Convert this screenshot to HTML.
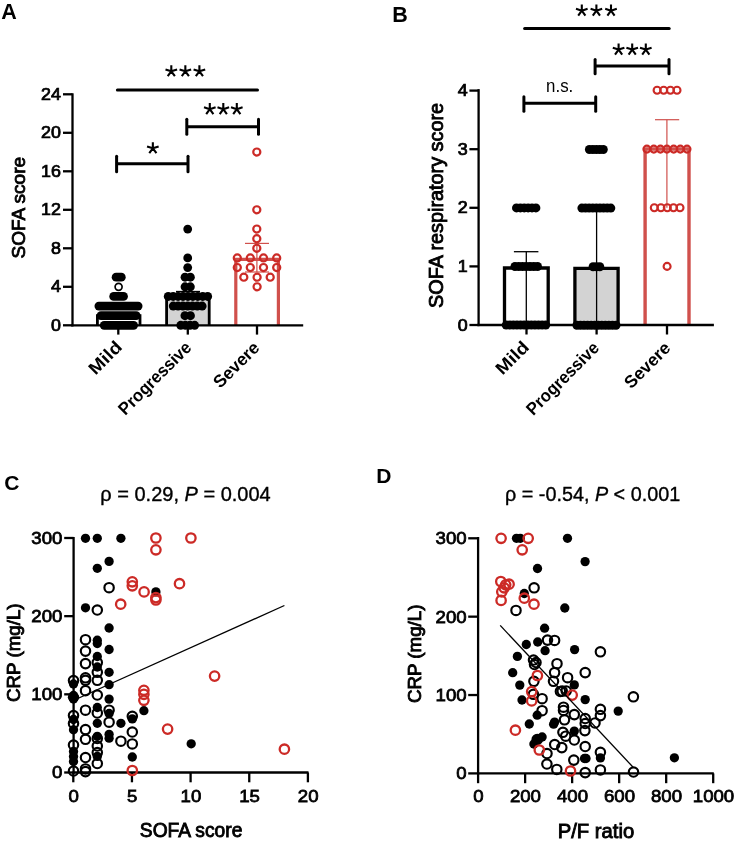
<!DOCTYPE html>
<html><head><meta charset="utf-8"><style>
html,body{margin:0;padding:0;background:#fff;}
svg{display:block;font-family:"Liberation Sans",sans-serif;will-change:transform;}
</style></head><body>
<svg width="736" height="843" viewBox="0 0 736 843">
<rect width="736" height="843" fill="#fff"/>
<text x="1.3" y="18.8" font-size="21.5" font-weight="bold" text-anchor="start"  style="">A</text>
<rect x="97.4" y="315.68" width="42.6" height="9.62" fill="#fff"/>
<path d="M97.4 325.3V315.68H140V325.3" fill="none" stroke="#000" stroke-width="2.8" stroke-linejoin="miter"/>
<rect x="166.6" y="296.91" width="42.6" height="28.39" fill="#d3d3d3"/>
<path d="M166.6 325.3V296.91H209.2V325.3" fill="none" stroke="#000" stroke-width="2.8" stroke-linejoin="miter"/>
<path d="M235.8 325.3V259.3H278.4V325.3" fill="none" stroke="#d0504c" stroke-width="3.2" stroke-linejoin="miter"/>
<line x1="256.9" y1="243.4" x2="256.9" y2="272" stroke="#d0504c" stroke-width="1.2" stroke-linecap="butt"/>
<line x1="245" y1="243.4" x2="269" y2="243.4" stroke="#d0504c" stroke-width="1.2" stroke-linecap="butt"/>
<line x1="245" y1="272" x2="269" y2="272" stroke="#d0504c" stroke-width="1.2" stroke-linecap="butt"/>
<line x1="176" y1="291.6" x2="200" y2="291.6" stroke="#000" stroke-width="1.5" stroke-linecap="butt"/>
<line x1="72.5" y1="93.3" x2="72.5" y2="326.4" stroke="#000" stroke-width="2.3" stroke-linecap="butt"/>
<line x1="71.35" y1="325.3" x2="303.2" y2="325.3" stroke="#000" stroke-width="2.3" stroke-linecap="butt"/>
<line x1="63" y1="325.3" x2="72.5" y2="325.3" stroke="#000" stroke-width="2.3" stroke-linecap="butt"/>
<text transform="translate(61,330.8) scale(1.11,1)" font-size="16.1" font-weight="normal" text-anchor="end"  style="stroke:#000;stroke-width:0.75px">0</text>
<line x1="63" y1="286.8" x2="72.5" y2="286.8" stroke="#000" stroke-width="2.3" stroke-linecap="butt"/>
<text transform="translate(61,292.3) scale(1.11,1)" font-size="16.1" font-weight="normal" text-anchor="end"  style="stroke:#000;stroke-width:0.75px">4</text>
<line x1="63" y1="248.3" x2="72.5" y2="248.3" stroke="#000" stroke-width="2.3" stroke-linecap="butt"/>
<text transform="translate(61,253.8) scale(1.11,1)" font-size="16.1" font-weight="normal" text-anchor="end"  style="stroke:#000;stroke-width:0.75px">8</text>
<line x1="63" y1="209.8" x2="72.5" y2="209.8" stroke="#000" stroke-width="2.3" stroke-linecap="butt"/>
<text transform="translate(61,215.3) scale(1.11,1)" font-size="16.1" font-weight="normal" text-anchor="end"  style="stroke:#000;stroke-width:0.75px">12</text>
<line x1="63" y1="171.3" x2="72.5" y2="171.3" stroke="#000" stroke-width="2.3" stroke-linecap="butt"/>
<text transform="translate(61,176.8) scale(1.11,1)" font-size="16.1" font-weight="normal" text-anchor="end"  style="stroke:#000;stroke-width:0.75px">16</text>
<line x1="63" y1="132.8" x2="72.5" y2="132.8" stroke="#000" stroke-width="2.3" stroke-linecap="butt"/>
<text transform="translate(61,138.3) scale(1.11,1)" font-size="16.1" font-weight="normal" text-anchor="end"  style="stroke:#000;stroke-width:0.75px">20</text>
<line x1="63" y1="94.3" x2="72.5" y2="94.3" stroke="#000" stroke-width="2.3" stroke-linecap="butt"/>
<text transform="translate(61,99.8) scale(1.11,1)" font-size="16.1" font-weight="normal" text-anchor="end"  style="stroke:#000;stroke-width:0.75px">24</text>
<line x1="118.3" y1="325" x2="118.3" y2="334.6" stroke="#000" stroke-width="2.3" stroke-linecap="butt"/>
<line x1="187.8" y1="325" x2="187.8" y2="334.6" stroke="#000" stroke-width="2.3" stroke-linecap="butt"/>
<line x1="257" y1="325" x2="257" y2="334.6" stroke="#000" stroke-width="2.3" stroke-linecap="butt"/>
<rect x="99.8" y="320.9" width="38.2" height="8.8" rx="4.4" fill="#000"/>
<rect x="96.6" y="311.28" width="44" height="8.8" rx="4.4" fill="#000"/>
<rect x="94.5" y="301.65" width="48" height="8.8" rx="4.4" fill="#000"/>
<rect x="109.3" y="292.03" width="18.6" height="8.8" rx="4.4" fill="#000"/>
<rect x="111.7" y="272.78" width="14" height="8.8" rx="4.4" fill="#000"/>
<circle cx="118.6" cy="286.8" r="3.5" fill="#fff" stroke="#000" stroke-width="1.7"/>
<circle cx="180.75" cy="325.3" r="4.45" fill="#000"/>
<circle cx="185.38" cy="325.3" r="4.45" fill="#000"/>
<circle cx="190.02" cy="325.3" r="4.45" fill="#000"/>
<circle cx="194.65" cy="325.3" r="4.45" fill="#000"/>
<circle cx="184.95" cy="315.68" r="4.45" fill="#000"/>
<circle cx="190.45" cy="315.68" r="4.45" fill="#000"/>
<circle cx="173.25" cy="306.05" r="4.45" fill="#000"/>
<circle cx="178.07" cy="306.05" r="4.45" fill="#000"/>
<circle cx="182.88" cy="306.05" r="4.45" fill="#000"/>
<circle cx="187.7" cy="306.05" r="4.45" fill="#000"/>
<circle cx="192.52" cy="306.05" r="4.45" fill="#000"/>
<circle cx="197.33" cy="306.05" r="4.45" fill="#000"/>
<circle cx="202.15" cy="306.05" r="4.45" fill="#000"/>
<circle cx="168.25" cy="296.43" r="4.45" fill="#000"/>
<circle cx="173.18" cy="296.43" r="4.45" fill="#000"/>
<circle cx="178.1" cy="296.43" r="4.45" fill="#000"/>
<circle cx="183.03" cy="296.43" r="4.45" fill="#000"/>
<circle cx="187.95" cy="296.43" r="4.45" fill="#000"/>
<circle cx="192.88" cy="296.43" r="4.45" fill="#000"/>
<circle cx="197.8" cy="296.43" r="4.45" fill="#000"/>
<circle cx="202.73" cy="296.43" r="4.45" fill="#000"/>
<circle cx="207.65" cy="296.43" r="4.45" fill="#000"/>
<circle cx="185.05" cy="286.8" r="4.45" fill="#000"/>
<circle cx="190.35" cy="286.8" r="4.45" fill="#000"/>
<circle cx="185.05" cy="277.18" r="4.45" fill="#000"/>
<circle cx="190.35" cy="277.18" r="4.45" fill="#000"/>
<circle cx="187.7" cy="267.55" r="4.4" fill="#000"/>
<circle cx="187.7" cy="257.93" r="4.4" fill="#000"/>
<circle cx="187.7" cy="229.05" r="4.4" fill="#000"/>
<circle cx="256.8" cy="152.05" r="3.55" fill="none" stroke="#cc2a26" stroke-width="2.2"/>
<circle cx="256.8" cy="209.8" r="3.55" fill="none" stroke="#cc2a26" stroke-width="2.2"/>
<circle cx="256.8" cy="229.05" r="3.55" fill="none" stroke="#cc2a26" stroke-width="2.2"/>
<circle cx="256.8" cy="238.68" r="3.55" fill="none" stroke="#cc2a26" stroke-width="2.2"/>
<circle cx="256.8" cy="248.3" r="3.55" fill="none" stroke="#cc2a26" stroke-width="2.2"/>
<circle cx="237.3" cy="257.93" r="3.55" fill="none" stroke="#cc2a26" stroke-width="2.2"/>
<circle cx="237.3" cy="267.55" r="3.55" fill="none" stroke="#cc2a26" stroke-width="2.2"/>
<circle cx="250.3" cy="257.93" r="3.55" fill="none" stroke="#cc2a26" stroke-width="2.2"/>
<circle cx="250.3" cy="267.55" r="3.55" fill="none" stroke="#cc2a26" stroke-width="2.2"/>
<circle cx="263.5" cy="257.93" r="3.55" fill="none" stroke="#cc2a26" stroke-width="2.2"/>
<circle cx="263.5" cy="267.55" r="3.55" fill="none" stroke="#cc2a26" stroke-width="2.2"/>
<circle cx="276.7" cy="257.93" r="3.55" fill="none" stroke="#cc2a26" stroke-width="2.2"/>
<circle cx="276.7" cy="267.55" r="3.55" fill="none" stroke="#cc2a26" stroke-width="2.2"/>
<circle cx="243.8" cy="277.18" r="3.55" fill="none" stroke="#cc2a26" stroke-width="2.2"/>
<circle cx="257.1" cy="277.18" r="3.55" fill="none" stroke="#cc2a26" stroke-width="2.2"/>
<circle cx="270.2" cy="277.18" r="3.55" fill="none" stroke="#cc2a26" stroke-width="2.2"/>
<circle cx="257.1" cy="286.8" r="3.55" fill="none" stroke="#cc2a26" stroke-width="2.2"/>
<line x1="117.4" y1="90" x2="257.5" y2="90" stroke="#000" stroke-width="3" stroke-linecap="round"/>
<path d="M171.3 71.3L171.3 65.2M171.3 71.3L177.1 69.41M171.3 71.3L174.89 76.24M171.3 71.3L167.71 76.24M171.3 71.3L165.5 69.41" stroke="#000" stroke-width="2.1" stroke-linecap="butt" fill="none"/>
<path d="M185.35 71.3L185.35 65.2M185.35 71.3L191.15 69.41M185.35 71.3L188.94 76.24M185.35 71.3L181.76 76.24M185.35 71.3L179.55 69.41" stroke="#000" stroke-width="2.1" stroke-linecap="butt" fill="none"/>
<path d="M199.4 71.3L199.4 65.2M199.4 71.3L205.2 69.41M199.4 71.3L202.99 76.24M199.4 71.3L195.81 76.24M199.4 71.3L193.6 69.41" stroke="#000" stroke-width="2.1" stroke-linecap="butt" fill="none"/>
<line x1="186.8" y1="126.7" x2="258.5" y2="126.7" stroke="#000" stroke-width="3" stroke-linecap="butt"/>
<line x1="186.8" y1="119.2" x2="186.8" y2="134.3" stroke="#000" stroke-width="3" stroke-linecap="round"/>
<line x1="258.5" y1="119.2" x2="258.5" y2="134.3" stroke="#000" stroke-width="3" stroke-linecap="round"/>
<path d="M209.8 109.2L209.8 103.1M209.8 109.2L215.6 107.31M209.8 109.2L213.39 114.14M209.8 109.2L206.21 114.14M209.8 109.2L204 107.31" stroke="#000" stroke-width="2.1" stroke-linecap="butt" fill="none"/>
<path d="M223.3 109.2L223.3 103.1M223.3 109.2L229.1 107.31M223.3 109.2L226.89 114.14M223.3 109.2L219.71 114.14M223.3 109.2L217.5 107.31" stroke="#000" stroke-width="2.1" stroke-linecap="butt" fill="none"/>
<path d="M236.8 109.2L236.8 103.1M236.8 109.2L242.6 107.31M236.8 109.2L240.39 114.14M236.8 109.2L233.21 114.14M236.8 109.2L231 107.31" stroke="#000" stroke-width="2.1" stroke-linecap="butt" fill="none"/>
<line x1="116.6" y1="163.8" x2="188" y2="163.8" stroke="#000" stroke-width="3" stroke-linecap="butt"/>
<line x1="116.6" y1="156.2" x2="116.6" y2="171.7" stroke="#000" stroke-width="3" stroke-linecap="round"/>
<line x1="188" y1="156.2" x2="188" y2="171.7" stroke="#000" stroke-width="3" stroke-linecap="round"/>
<path d="M152.85 148.3L152.85 142.2M152.85 148.3L158.65 146.41M152.85 148.3L156.44 153.24M152.85 148.3L149.26 153.24M152.85 148.3L147.05 146.41" stroke="#000" stroke-width="2.1" stroke-linecap="butt" fill="none"/>
<text transform="translate(24.9,207.7) rotate(-90)" font-size="19" font-weight="normal" style="stroke:#000;stroke-width:0.85px" text-anchor="middle" textLength="101.6" lengthAdjust="spacingAndGlyphs">SOFA score</text>
<text transform="translate(123.1,348.1) rotate(-45)" font-size="17.5" font-weight="bold" text-anchor="end" textLength="39" lengthAdjust="spacingAndGlyphs">Mild</text>
<text transform="translate(192.5,348.7) rotate(-45)" font-size="17.5" font-weight="bold" text-anchor="end" textLength="95" lengthAdjust="spacingAndGlyphs">Progressive</text>
<text transform="translate(260.6,348.8) rotate(-45)" font-size="17.5" font-weight="bold" text-anchor="end" textLength="57" lengthAdjust="spacingAndGlyphs">Severe</text>
<text x="392.2" y="21.6" font-size="21.5" font-weight="bold" text-anchor="start"  style="">B</text>
<rect x="504.5" y="268" width="43.7" height="57" fill="#fff"/>
<path d="M504.5 325V268H548.2V325" fill="none" stroke="#000" stroke-width="3.3" stroke-linejoin="miter"/>
<rect x="574.9" y="268.3" width="43.2" height="56.7" fill="#d3d3d3"/>
<path d="M574.9 325V268.3H618.1V325" fill="none" stroke="#000" stroke-width="3.3" stroke-linejoin="miter"/>
<path d="M645.1 325V149H689V325" fill="none" stroke="#d0504c" stroke-width="3.4" stroke-linejoin="miter"/>
<line x1="526.3" y1="251.7" x2="526.3" y2="325" stroke="#000" stroke-width="1.3" stroke-linecap="butt"/>
<line x1="513.9" y1="251.7" x2="538.4" y2="251.7" stroke="#000" stroke-width="1.3" stroke-linecap="butt"/>
<line x1="596.6" y1="207.8" x2="596.6" y2="325" stroke="#000" stroke-width="1.3" stroke-linecap="butt"/>
<line x1="666.9" y1="119.7" x2="666.9" y2="207.8" stroke="#d0504c" stroke-width="1.2" stroke-linecap="butt"/>
<line x1="655" y1="119.7" x2="679.2" y2="119.7" stroke="#d0504c" stroke-width="1.2" stroke-linecap="butt"/>
<line x1="478.6" y1="89.1" x2="478.6" y2="326.1" stroke="#000" stroke-width="2.3" stroke-linecap="butt"/>
<line x1="477.45" y1="325" x2="713.9" y2="325" stroke="#000" stroke-width="2.3" stroke-linecap="butt"/>
<line x1="469.4" y1="325" x2="478.6" y2="325" stroke="#000" stroke-width="2.3" stroke-linecap="butt"/>
<text transform="translate(467.8,330.5) scale(1.11,1)" font-size="16.1" font-weight="normal" text-anchor="end"  style="stroke:#000;stroke-width:0.75px">0</text>
<line x1="469.4" y1="266.4" x2="478.6" y2="266.4" stroke="#000" stroke-width="2.3" stroke-linecap="butt"/>
<text transform="translate(467.8,271.9) scale(1.11,1)" font-size="16.1" font-weight="normal" text-anchor="end"  style="stroke:#000;stroke-width:0.75px">1</text>
<line x1="469.4" y1="207.8" x2="478.6" y2="207.8" stroke="#000" stroke-width="2.3" stroke-linecap="butt"/>
<text transform="translate(467.8,213.3) scale(1.11,1)" font-size="16.1" font-weight="normal" text-anchor="end"  style="stroke:#000;stroke-width:0.75px">2</text>
<line x1="469.4" y1="149.2" x2="478.6" y2="149.2" stroke="#000" stroke-width="2.3" stroke-linecap="butt"/>
<text transform="translate(467.8,154.7) scale(1.11,1)" font-size="16.1" font-weight="normal" text-anchor="end"  style="stroke:#000;stroke-width:0.75px">3</text>
<line x1="469.4" y1="90.6" x2="478.6" y2="90.6" stroke="#000" stroke-width="2.3" stroke-linecap="butt"/>
<text transform="translate(467.8,96.1) scale(1.11,1)" font-size="16.1" font-weight="normal" text-anchor="end"  style="stroke:#000;stroke-width:0.75px">4</text>
<line x1="526.5" y1="325" x2="526.5" y2="334.5" stroke="#000" stroke-width="2.3" stroke-linecap="butt"/>
<line x1="596.6" y1="325" x2="596.6" y2="334.5" stroke="#000" stroke-width="2.3" stroke-linecap="butt"/>
<line x1="667" y1="325" x2="667" y2="334.5" stroke="#000" stroke-width="2.3" stroke-linecap="butt"/>
<circle cx="506.2" cy="325.1" r="4.5" fill="#000"/>
<circle cx="509.79" cy="325.1" r="4.5" fill="#000"/>
<circle cx="513.38" cy="325.1" r="4.5" fill="#000"/>
<circle cx="516.97" cy="325.1" r="4.5" fill="#000"/>
<circle cx="520.56" cy="325.1" r="4.5" fill="#000"/>
<circle cx="524.15" cy="325.1" r="4.5" fill="#000"/>
<circle cx="527.75" cy="325.1" r="4.5" fill="#000"/>
<circle cx="531.34" cy="325.1" r="4.5" fill="#000"/>
<circle cx="534.93" cy="325.1" r="4.5" fill="#000"/>
<circle cx="538.52" cy="325.1" r="4.5" fill="#000"/>
<circle cx="542.11" cy="325.1" r="4.5" fill="#000"/>
<circle cx="545.7" cy="325.1" r="4.5" fill="#000"/>
<circle cx="515" cy="266.5" r="4.5" fill="#000"/>
<circle cx="518.75" cy="266.5" r="4.5" fill="#000"/>
<circle cx="522.5" cy="266.5" r="4.5" fill="#000"/>
<circle cx="526.25" cy="266.5" r="4.5" fill="#000"/>
<circle cx="530" cy="266.5" r="4.5" fill="#000"/>
<circle cx="533.75" cy="266.5" r="4.5" fill="#000"/>
<circle cx="537.5" cy="266.5" r="4.5" fill="#000"/>
<circle cx="516.5" cy="207.9" r="4.5" fill="#000"/>
<circle cx="520.38" cy="207.9" r="4.5" fill="#000"/>
<circle cx="524.26" cy="207.9" r="4.5" fill="#000"/>
<circle cx="528.14" cy="207.9" r="4.5" fill="#000"/>
<circle cx="532.02" cy="207.9" r="4.5" fill="#000"/>
<circle cx="535.9" cy="207.9" r="4.5" fill="#000"/>
<circle cx="576.9" cy="325.3" r="4.5" fill="#000"/>
<circle cx="580.45" cy="325.3" r="4.5" fill="#000"/>
<circle cx="584.01" cy="325.3" r="4.5" fill="#000"/>
<circle cx="587.56" cy="325.3" r="4.5" fill="#000"/>
<circle cx="591.12" cy="325.3" r="4.5" fill="#000"/>
<circle cx="594.67" cy="325.3" r="4.5" fill="#000"/>
<circle cx="598.23" cy="325.3" r="4.5" fill="#000"/>
<circle cx="601.78" cy="325.3" r="4.5" fill="#000"/>
<circle cx="605.34" cy="325.3" r="4.5" fill="#000"/>
<circle cx="608.89" cy="325.3" r="4.5" fill="#000"/>
<circle cx="612.45" cy="325.3" r="4.5" fill="#000"/>
<circle cx="616" cy="325.3" r="4.5" fill="#000"/>
<circle cx="593.1" cy="266.7" r="4.5" fill="#000"/>
<circle cx="596.45" cy="266.7" r="4.5" fill="#000"/>
<circle cx="599.8" cy="266.7" r="4.5" fill="#000"/>
<circle cx="581.9" cy="208.1" r="4.5" fill="#000"/>
<circle cx="585.51" cy="208.1" r="4.5" fill="#000"/>
<circle cx="589.12" cy="208.1" r="4.5" fill="#000"/>
<circle cx="592.74" cy="208.1" r="4.5" fill="#000"/>
<circle cx="596.35" cy="208.1" r="4.5" fill="#000"/>
<circle cx="599.96" cy="208.1" r="4.5" fill="#000"/>
<circle cx="603.57" cy="208.1" r="4.5" fill="#000"/>
<circle cx="607.19" cy="208.1" r="4.5" fill="#000"/>
<circle cx="610.8" cy="208.1" r="4.5" fill="#000"/>
<circle cx="589.4" cy="149.5" r="4.5" fill="#000"/>
<circle cx="592.88" cy="149.5" r="4.5" fill="#000"/>
<circle cx="596.35" cy="149.5" r="4.5" fill="#000"/>
<circle cx="599.82" cy="149.5" r="4.5" fill="#000"/>
<circle cx="603.3" cy="149.5" r="4.5" fill="#000"/>
<circle cx="657.1" cy="90.3" r="3.5" fill="none" stroke="#cc2a26" stroke-width="2.1"/>
<circle cx="663.7" cy="90.3" r="3.5" fill="none" stroke="#cc2a26" stroke-width="2.1"/>
<circle cx="670.4" cy="90.3" r="3.5" fill="none" stroke="#cc2a26" stroke-width="2.1"/>
<circle cx="677" cy="90.3" r="3.5" fill="none" stroke="#cc2a26" stroke-width="2.1"/>
<circle cx="646.9" cy="149.1" r="3.5" fill="none" stroke="#cc2a26" stroke-width="2.1"/>
<circle cx="653.8" cy="149.1" r="3.5" fill="none" stroke="#cc2a26" stroke-width="2.1"/>
<circle cx="660.4" cy="149.1" r="3.5" fill="none" stroke="#cc2a26" stroke-width="2.1"/>
<circle cx="666.9" cy="149.1" r="3.5" fill="none" stroke="#cc2a26" stroke-width="2.1"/>
<circle cx="673.7" cy="149.1" r="3.5" fill="none" stroke="#cc2a26" stroke-width="2.1"/>
<circle cx="680.3" cy="149.1" r="3.5" fill="none" stroke="#cc2a26" stroke-width="2.1"/>
<circle cx="687" cy="149.1" r="3.5" fill="none" stroke="#cc2a26" stroke-width="2.1"/>
<circle cx="654.3" cy="207.8" r="3.5" fill="none" stroke="#cc2a26" stroke-width="2.1"/>
<circle cx="660.9" cy="207.8" r="3.5" fill="none" stroke="#cc2a26" stroke-width="2.1"/>
<circle cx="667.3" cy="207.8" r="3.5" fill="none" stroke="#cc2a26" stroke-width="2.1"/>
<circle cx="673.5" cy="207.8" r="3.5" fill="none" stroke="#cc2a26" stroke-width="2.1"/>
<circle cx="680" cy="207.8" r="3.5" fill="none" stroke="#cc2a26" stroke-width="2.1"/>
<circle cx="667.1" cy="266.4" r="3.5" fill="none" stroke="#cc2a26" stroke-width="2.1"/>
<line x1="524.6" y1="28.5" x2="669.2" y2="28.5" stroke="#000" stroke-width="3" stroke-linecap="round"/>
<path d="M581.8 10.7L581.8 4.6M581.8 10.7L587.6 8.81M581.8 10.7L585.39 15.64M581.8 10.7L578.21 15.64M581.8 10.7L576 8.81" stroke="#000" stroke-width="2.1" stroke-linecap="butt" fill="none"/>
<path d="M596.4 10.7L596.4 4.6M596.4 10.7L602.2 8.81M596.4 10.7L599.99 15.64M596.4 10.7L592.81 15.64M596.4 10.7L590.6 8.81" stroke="#000" stroke-width="2.1" stroke-linecap="butt" fill="none"/>
<path d="M611 10.7L611 4.6M611 10.7L616.8 8.81M611 10.7L614.59 15.64M611 10.7L607.41 15.64M611 10.7L605.2 8.81" stroke="#000" stroke-width="2.1" stroke-linecap="butt" fill="none"/>
<line x1="595.1" y1="66" x2="669" y2="66" stroke="#000" stroke-width="3" stroke-linecap="butt"/>
<line x1="595.1" y1="59.4" x2="595.1" y2="73.7" stroke="#000" stroke-width="3" stroke-linecap="round"/>
<line x1="669" y1="59.4" x2="669" y2="73.7" stroke="#000" stroke-width="3" stroke-linecap="round"/>
<path d="M618.6 49.6L618.6 43.5M618.6 49.6L624.4 47.71M618.6 49.6L622.19 54.54M618.6 49.6L615.01 54.54M618.6 49.6L612.8 47.71" stroke="#000" stroke-width="2.1" stroke-linecap="butt" fill="none"/>
<path d="M632.2 49.6L632.2 43.5M632.2 49.6L638 47.71M632.2 49.6L635.79 54.54M632.2 49.6L628.61 54.54M632.2 49.6L626.4 47.71" stroke="#000" stroke-width="2.1" stroke-linecap="butt" fill="none"/>
<path d="M645.8 49.6L645.8 43.5M645.8 49.6L651.6 47.71M645.8 49.6L649.39 54.54M645.8 49.6L642.21 54.54M645.8 49.6L640 47.71" stroke="#000" stroke-width="2.1" stroke-linecap="butt" fill="none"/>
<line x1="523.9" y1="103.3" x2="595.7" y2="103.3" stroke="#000" stroke-width="3" stroke-linecap="butt"/>
<line x1="523.9" y1="96.7" x2="523.9" y2="111.2" stroke="#000" stroke-width="3" stroke-linecap="round"/>
<line x1="595.7" y1="96.7" x2="595.7" y2="111.2" stroke="#000" stroke-width="3" stroke-linecap="round"/>
<text x="546.1" y="92" font-size="19" font-weight="normal" text-anchor="start" textLength="27.2" lengthAdjust="spacingAndGlyphs"  style="">n.s.</text>
<text transform="translate(443,205.4) rotate(-90)" font-size="19.3" font-weight="normal" style="stroke:#000;stroke-width:0.85px" text-anchor="middle" textLength="205" lengthAdjust="spacingAndGlyphs">SOFA respiratory score</text>
<text transform="translate(530.1,348.2) rotate(-45)" font-size="17.5" font-weight="bold" text-anchor="end" textLength="39" lengthAdjust="spacingAndGlyphs">Mild</text>
<text transform="translate(600.4,349) rotate(-45)" font-size="17.5" font-weight="bold" text-anchor="end" textLength="95" lengthAdjust="spacingAndGlyphs">Progressive</text>
<text transform="translate(671.6,349.2) rotate(-45)" font-size="17.5" font-weight="bold" text-anchor="end" textLength="57" lengthAdjust="spacingAndGlyphs">Severe</text>
<text x="4.2" y="490.3" font-size="21" font-weight="bold" text-anchor="start"  style="">C</text>
<text x="100.3" y="501.2" font-size="19.3" textLength="170.4" lengthAdjust="spacingAndGlyphs" style="stroke:#000;stroke-width:0.35px">ρ = 0.29, <tspan font-style="italic">P</tspan> = 0.004</text>
<line x1="73.6" y1="537" x2="73.6" y2="773.65" stroke="#000" stroke-width="2.3" stroke-linecap="butt"/>
<line x1="72.45" y1="772.5" x2="308.5" y2="772.5" stroke="#000" stroke-width="2.3" stroke-linecap="butt"/>
<line x1="64.2" y1="772.5" x2="73.6" y2="772.5" stroke="#000" stroke-width="2.3" stroke-linecap="butt"/>
<text transform="translate(62.4,778.4) scale(1.09,1)" font-size="17.1" font-weight="normal" text-anchor="end"  style="stroke:#000;stroke-width:0.75px">0</text>
<line x1="64.2" y1="694.33" x2="73.6" y2="694.33" stroke="#000" stroke-width="2.3" stroke-linecap="butt"/>
<text transform="translate(62.4,700.23) scale(1.09,1)" font-size="17.1" font-weight="normal" text-anchor="end"  style="stroke:#000;stroke-width:0.75px">100</text>
<line x1="64.2" y1="616.16" x2="73.6" y2="616.16" stroke="#000" stroke-width="2.3" stroke-linecap="butt"/>
<text transform="translate(62.4,622.06) scale(1.09,1)" font-size="17.1" font-weight="normal" text-anchor="end"  style="stroke:#000;stroke-width:0.75px">200</text>
<line x1="64.2" y1="537.99" x2="73.6" y2="537.99" stroke="#000" stroke-width="2.3" stroke-linecap="butt"/>
<text transform="translate(62.4,543.89) scale(1.09,1)" font-size="17.1" font-weight="normal" text-anchor="end"  style="stroke:#000;stroke-width:0.75px">300</text>
<line x1="73.3" y1="772.5" x2="73.3" y2="782.3" stroke="#000" stroke-width="2.3" stroke-linecap="butt"/>
<text transform="translate(73.6,802) scale(1.09,1)" font-size="17.1" font-weight="normal" text-anchor="middle"  style="stroke:#000;stroke-width:0.75px">0</text>
<line x1="131.95" y1="772.5" x2="131.95" y2="782.3" stroke="#000" stroke-width="2.3" stroke-linecap="butt"/>
<text transform="translate(132.25,802) scale(1.09,1)" font-size="17.1" font-weight="normal" text-anchor="middle"  style="stroke:#000;stroke-width:0.75px">5</text>
<line x1="190.6" y1="772.5" x2="190.6" y2="782.3" stroke="#000" stroke-width="2.3" stroke-linecap="butt"/>
<text transform="translate(190.9,802) scale(1.09,1)" font-size="17.1" font-weight="normal" text-anchor="middle"  style="stroke:#000;stroke-width:0.75px">10</text>
<line x1="249.25" y1="772.5" x2="249.25" y2="782.3" stroke="#000" stroke-width="2.3" stroke-linecap="butt"/>
<text transform="translate(249.55,802) scale(1.09,1)" font-size="17.1" font-weight="normal" text-anchor="middle"  style="stroke:#000;stroke-width:0.75px">15</text>
<line x1="307.9" y1="772.5" x2="307.9" y2="782.3" stroke="#000" stroke-width="2.3" stroke-linecap="butt"/>
<text transform="translate(308.2,802) scale(1.09,1)" font-size="17.1" font-weight="normal" text-anchor="middle"  style="stroke:#000;stroke-width:0.75px">20</text>
<text transform="translate(19.5,652.7) rotate(-90)" font-size="18.6" font-weight="normal" style="stroke:#000;stroke-width:0.85px" text-anchor="middle" textLength="98.6" lengthAdjust="spacingAndGlyphs">CRP (mg/L)</text>
<text x="191.1" y="837.3" font-size="19.3" font-weight="normal" text-anchor="middle" textLength="102.5" lengthAdjust="spacingAndGlyphs"  style="stroke:#000;stroke-width:0.85px">SOFA score</text>
<circle cx="109.1" cy="587.7" r="4.7" fill="none" stroke="#000" stroke-width="2.15"/>
<circle cx="97.3" cy="610" r="4.7" fill="none" stroke="#000" stroke-width="2.15"/>
<circle cx="85.5" cy="639.7" r="4.7" fill="none" stroke="#000" stroke-width="2.15"/>
<circle cx="85.5" cy="651.1" r="4.7" fill="none" stroke="#000" stroke-width="2.15"/>
<circle cx="97.3" cy="662.5" r="4.7" fill="none" stroke="#000" stroke-width="2.15"/>
<circle cx="85.5" cy="663.6" r="4.7" fill="none" stroke="#000" stroke-width="2.15"/>
<circle cx="97.3" cy="672.3" r="4.7" fill="none" stroke="#000" stroke-width="2.15"/>
<circle cx="73.5" cy="680.6" r="4.7" fill="none" stroke="#000" stroke-width="2.15"/>
<circle cx="73.5" cy="715.5" r="4.7" fill="none" stroke="#000" stroke-width="2.15"/>
<circle cx="73.5" cy="723.5" r="4.7" fill="none" stroke="#000" stroke-width="2.15"/>
<circle cx="73.5" cy="745" r="4.7" fill="none" stroke="#000" stroke-width="2.15"/>
<circle cx="85.5" cy="680.3" r="4.7" fill="none" stroke="#000" stroke-width="2.15"/>
<circle cx="85.5" cy="677.8" r="4.7" fill="none" stroke="#000" stroke-width="2.15"/>
<circle cx="85.5" cy="690.7" r="4.7" fill="none" stroke="#000" stroke-width="2.15"/>
<circle cx="85.5" cy="710.2" r="4.7" fill="none" stroke="#000" stroke-width="2.15"/>
<circle cx="85.5" cy="729.6" r="4.7" fill="none" stroke="#000" stroke-width="2.15"/>
<circle cx="85.5" cy="739.3" r="4.7" fill="none" stroke="#000" stroke-width="2.15"/>
<circle cx="97.3" cy="680.3" r="4.7" fill="none" stroke="#000" stroke-width="2.15"/>
<circle cx="97.3" cy="695" r="4.7" fill="none" stroke="#000" stroke-width="2.15"/>
<circle cx="97.3" cy="713" r="4.7" fill="none" stroke="#000" stroke-width="2.15"/>
<circle cx="97.3" cy="738.5" r="4.7" fill="none" stroke="#000" stroke-width="2.15"/>
<circle cx="97.3" cy="746" r="4.7" fill="none" stroke="#000" stroke-width="2.15"/>
<circle cx="109.1" cy="710.2" r="4.7" fill="none" stroke="#000" stroke-width="2.15"/>
<circle cx="109.1" cy="722.2" r="4.7" fill="none" stroke="#000" stroke-width="2.15"/>
<circle cx="120.9" cy="741.2" r="4.7" fill="none" stroke="#000" stroke-width="2.15"/>
<circle cx="132.3" cy="716.3" r="4.7" fill="none" stroke="#000" stroke-width="2.15"/>
<circle cx="132.3" cy="732" r="4.7" fill="none" stroke="#000" stroke-width="2.15"/>
<circle cx="132.3" cy="743.9" r="4.7" fill="none" stroke="#000" stroke-width="2.15"/>
<circle cx="73.5" cy="771" r="4.7" fill="none" stroke="#000" stroke-width="2.15"/>
<circle cx="85.5" cy="757.5" r="4.7" fill="none" stroke="#000" stroke-width="2.15"/>
<circle cx="85.5" cy="768.9" r="4.7" fill="none" stroke="#000" stroke-width="2.15"/>
<circle cx="85.5" cy="771.6" r="4.7" fill="none" stroke="#000" stroke-width="2.15"/>
<circle cx="97.3" cy="752.6" r="4.7" fill="none" stroke="#000" stroke-width="2.15"/>
<circle cx="97.3" cy="763.5" r="4.7" fill="none" stroke="#000" stroke-width="2.15"/>
<circle cx="85.5" cy="538.3" r="4.65" fill="#000"/>
<circle cx="97.3" cy="538.3" r="4.65" fill="#000"/>
<circle cx="120.9" cy="538.3" r="4.65" fill="#000"/>
<circle cx="109.1" cy="561.4" r="4.65" fill="#000"/>
<circle cx="97.3" cy="568.3" r="4.65" fill="#000"/>
<circle cx="85.5" cy="607.8" r="4.65" fill="#000"/>
<circle cx="109.1" cy="628" r="4.65" fill="#000"/>
<circle cx="97.3" cy="640.2" r="4.65" fill="#000"/>
<circle cx="97.3" cy="643.5" r="4.65" fill="#000"/>
<circle cx="109.1" cy="649.5" r="4.65" fill="#000"/>
<circle cx="97.3" cy="656.5" r="4.65" fill="#000"/>
<circle cx="97.3" cy="667" r="4.65" fill="#000"/>
<circle cx="109.1" cy="672.3" r="4.65" fill="#000"/>
<circle cx="73.5" cy="684" r="4.65" fill="#000"/>
<circle cx="73.5" cy="695.5" r="4.65" fill="#000"/>
<circle cx="73.5" cy="699" r="4.65" fill="#000"/>
<circle cx="72.5" cy="697.3" r="4.65" fill="#000"/>
<circle cx="74.6" cy="697.3" r="4.65" fill="#000"/>
<circle cx="73.5" cy="719.5" r="4.65" fill="#000"/>
<circle cx="73.5" cy="729.8" r="4.65" fill="#000"/>
<circle cx="97.3" cy="707.5" r="4.65" fill="#000"/>
<circle cx="97.3" cy="723.3" r="4.65" fill="#000"/>
<circle cx="97.3" cy="736.3" r="4.65" fill="#000"/>
<circle cx="109.1" cy="684.7" r="4.65" fill="#000"/>
<circle cx="109.1" cy="699.1" r="4.65" fill="#000"/>
<circle cx="109.1" cy="713.5" r="4.65" fill="#000"/>
<circle cx="109.1" cy="734.3" r="4.65" fill="#000"/>
<circle cx="109.1" cy="738.2" r="4.65" fill="#000"/>
<circle cx="120.9" cy="723.3" r="4.65" fill="#000"/>
<circle cx="132.3" cy="718.9" r="4.65" fill="#000"/>
<circle cx="73.5" cy="751.5" r="4.65" fill="#000"/>
<circle cx="73.5" cy="756.5" r="4.65" fill="#000"/>
<circle cx="73.5" cy="761.5" r="4.65" fill="#000"/>
<circle cx="97.3" cy="756.4" r="4.65" fill="#000"/>
<circle cx="132.3" cy="757" r="4.65" fill="#000"/>
<circle cx="155.9" cy="591.9" r="4.65" fill="#000"/>
<circle cx="143.9" cy="710.7" r="4.65" fill="#000"/>
<circle cx="191.2" cy="743.8" r="4.65" fill="#000"/>
<circle cx="132.3" cy="581.8" r="4.7" fill="none" stroke="#cc2a26" stroke-width="2.3"/>
<circle cx="132.3" cy="585.8" r="4.7" fill="none" stroke="#cc2a26" stroke-width="2.3"/>
<circle cx="144.1" cy="591.9" r="4.7" fill="none" stroke="#cc2a26" stroke-width="2.3"/>
<circle cx="120.7" cy="604.2" r="4.7" fill="none" stroke="#cc2a26" stroke-width="2.3"/>
<circle cx="155.9" cy="538" r="4.7" fill="none" stroke="#cc2a26" stroke-width="2.3"/>
<circle cx="155.9" cy="549.8" r="4.7" fill="none" stroke="#cc2a26" stroke-width="2.3"/>
<circle cx="190.9" cy="538" r="4.7" fill="none" stroke="#cc2a26" stroke-width="2.3"/>
<circle cx="155.9" cy="597.6" r="4.7" fill="none" stroke="#cc2a26" stroke-width="2.3"/>
<circle cx="155.9" cy="600" r="4.7" fill="none" stroke="#cc2a26" stroke-width="2.3"/>
<circle cx="179.5" cy="583.7" r="4.7" fill="none" stroke="#cc2a26" stroke-width="2.3"/>
<circle cx="214.6" cy="676.1" r="4.7" fill="none" stroke="#cc2a26" stroke-width="2.3"/>
<circle cx="143.9" cy="690.3" r="4.7" fill="none" stroke="#cc2a26" stroke-width="2.3"/>
<circle cx="143.9" cy="694.3" r="4.7" fill="none" stroke="#cc2a26" stroke-width="2.3"/>
<circle cx="143.9" cy="700.3" r="4.7" fill="none" stroke="#cc2a26" stroke-width="2.3"/>
<circle cx="167.6" cy="729.1" r="4.7" fill="none" stroke="#cc2a26" stroke-width="2.3"/>
<circle cx="284.4" cy="749.2" r="4.7" fill="none" stroke="#cc2a26" stroke-width="2.3"/>
<circle cx="132.3" cy="770.5" r="4.7" fill="none" stroke="#cc2a26" stroke-width="2.3"/>
<line x1="73.3" y1="700.5" x2="284.4" y2="605.5" stroke="#000" stroke-width="1.3" stroke-linecap="butt"/>
<text x="376.2" y="482.9" font-size="21" font-weight="bold" text-anchor="start"  style="">D</text>
<text x="505" y="501.2" font-size="19.3" textLength="175.2" lengthAdjust="spacingAndGlyphs" style="stroke:#000;stroke-width:0.35px">ρ = -0.54, <tspan font-style="italic">P</tspan> &lt; 0.001</text>
<line x1="478.1" y1="537" x2="478.1" y2="774.55" stroke="#000" stroke-width="2.3" stroke-linecap="butt"/>
<line x1="476.95" y1="773.4" x2="713.8" y2="773.4" stroke="#000" stroke-width="2.3" stroke-linecap="butt"/>
<line x1="468.2" y1="773.4" x2="478.1" y2="773.4" stroke="#000" stroke-width="2.3" stroke-linecap="butt"/>
<text transform="translate(466.7,779.3) scale(1.09,1)" font-size="17.1" font-weight="normal" text-anchor="end"  style="stroke:#000;stroke-width:0.75px">0</text>
<line x1="468.2" y1="695.03" x2="478.1" y2="695.03" stroke="#000" stroke-width="2.3" stroke-linecap="butt"/>
<text transform="translate(466.7,700.93) scale(1.09,1)" font-size="17.1" font-weight="normal" text-anchor="end"  style="stroke:#000;stroke-width:0.75px">100</text>
<line x1="468.2" y1="616.66" x2="478.1" y2="616.66" stroke="#000" stroke-width="2.3" stroke-linecap="butt"/>
<text transform="translate(466.7,622.56) scale(1.09,1)" font-size="17.1" font-weight="normal" text-anchor="end"  style="stroke:#000;stroke-width:0.75px">200</text>
<line x1="468.2" y1="538.29" x2="478.1" y2="538.29" stroke="#000" stroke-width="2.3" stroke-linecap="butt"/>
<text transform="translate(466.7,544.19) scale(1.09,1)" font-size="17.1" font-weight="normal" text-anchor="end"  style="stroke:#000;stroke-width:0.75px">300</text>
<line x1="478.1" y1="773.4" x2="478.1" y2="783.2" stroke="#000" stroke-width="2.3" stroke-linecap="butt"/>
<text transform="translate(478.4,802) scale(1.09,1)" font-size="17.1" font-weight="normal" text-anchor="middle"  style="stroke:#000;stroke-width:0.75px">0</text>
<line x1="525.12" y1="773.4" x2="525.12" y2="783.2" stroke="#000" stroke-width="2.3" stroke-linecap="butt"/>
<text transform="translate(525.42,802) scale(1.09,1)" font-size="17.1" font-weight="normal" text-anchor="middle"  style="stroke:#000;stroke-width:0.75px">200</text>
<line x1="572.14" y1="773.4" x2="572.14" y2="783.2" stroke="#000" stroke-width="2.3" stroke-linecap="butt"/>
<text transform="translate(572.44,802) scale(1.09,1)" font-size="17.1" font-weight="normal" text-anchor="middle"  style="stroke:#000;stroke-width:0.75px">400</text>
<line x1="619.16" y1="773.4" x2="619.16" y2="783.2" stroke="#000" stroke-width="2.3" stroke-linecap="butt"/>
<text transform="translate(619.46,802) scale(1.09,1)" font-size="17.1" font-weight="normal" text-anchor="middle"  style="stroke:#000;stroke-width:0.75px">600</text>
<line x1="666.18" y1="773.4" x2="666.18" y2="783.2" stroke="#000" stroke-width="2.3" stroke-linecap="butt"/>
<text transform="translate(666.48,802) scale(1.09,1)" font-size="17.1" font-weight="normal" text-anchor="middle"  style="stroke:#000;stroke-width:0.75px">800</text>
<line x1="713.2" y1="773.4" x2="713.2" y2="783.2" stroke="#000" stroke-width="2.3" stroke-linecap="butt"/>
<text transform="translate(713.5,802) scale(1.09,1)" font-size="17.1" font-weight="normal" text-anchor="middle"  style="stroke:#000;stroke-width:0.75px">1000</text>
<text transform="translate(420.6,653.8) rotate(-90)" font-size="18.6" font-weight="normal" style="stroke:#000;stroke-width:0.85px" text-anchor="middle" textLength="98.6" lengthAdjust="spacingAndGlyphs">CRP (mg/L)</text>
<text x="596" y="837.8" font-size="19.3" font-weight="normal" text-anchor="middle" textLength="76.5" lengthAdjust="spacingAndGlyphs"  style="stroke:#000;stroke-width:0.85px">P/F ratio</text>
<circle cx="534.1" cy="587.8" r="4.7" fill="none" stroke="#000" stroke-width="2.15"/>
<circle cx="516" cy="610.4" r="4.7" fill="none" stroke="#000" stroke-width="2.15"/>
<circle cx="547.5" cy="640.1" r="4.7" fill="none" stroke="#000" stroke-width="2.15"/>
<circle cx="554.6" cy="640.4" r="4.7" fill="none" stroke="#000" stroke-width="2.15"/>
<circle cx="533.5" cy="660" r="4.7" fill="none" stroke="#000" stroke-width="2.15"/>
<circle cx="536" cy="662.5" r="4.7" fill="none" stroke="#000" stroke-width="2.15"/>
<circle cx="534.5" cy="664.5" r="4.7" fill="none" stroke="#000" stroke-width="2.15"/>
<circle cx="557" cy="663.7" r="4.7" fill="none" stroke="#000" stroke-width="2.15"/>
<circle cx="554.6" cy="672.6" r="4.7" fill="none" stroke="#000" stroke-width="2.15"/>
<circle cx="600.4" cy="651.8" r="4.7" fill="none" stroke="#000" stroke-width="2.15"/>
<circle cx="585.2" cy="672.6" r="4.7" fill="none" stroke="#000" stroke-width="2.15"/>
<circle cx="567.6" cy="677.7" r="4.7" fill="none" stroke="#000" stroke-width="2.15"/>
<circle cx="533.9" cy="681.3" r="4.7" fill="none" stroke="#000" stroke-width="2.15"/>
<circle cx="553.5" cy="681.3" r="4.7" fill="none" stroke="#000" stroke-width="2.15"/>
<circle cx="562.2" cy="691.1" r="4.7" fill="none" stroke="#000" stroke-width="2.15"/>
<circle cx="533.4" cy="694.3" r="4.7" fill="none" stroke="#000" stroke-width="2.15"/>
<circle cx="542.1" cy="698.7" r="4.7" fill="none" stroke="#000" stroke-width="2.15"/>
<circle cx="542.1" cy="710.7" r="4.7" fill="none" stroke="#000" stroke-width="2.15"/>
<circle cx="560.4" cy="691.4" r="4.7" fill="none" stroke="#000" stroke-width="2.15"/>
<circle cx="566.2" cy="690.9" r="4.7" fill="none" stroke="#000" stroke-width="2.15"/>
<circle cx="563.5" cy="707.2" r="4.7" fill="none" stroke="#000" stroke-width="2.15"/>
<circle cx="563.5" cy="710.4" r="4.7" fill="none" stroke="#000" stroke-width="2.15"/>
<circle cx="574.3" cy="714.6" r="4.7" fill="none" stroke="#000" stroke-width="2.15"/>
<circle cx="600.4" cy="709.3" r="4.7" fill="none" stroke="#000" stroke-width="2.15"/>
<circle cx="600.4" cy="715.6" r="4.7" fill="none" stroke="#000" stroke-width="2.15"/>
<circle cx="564.5" cy="719.8" r="4.7" fill="none" stroke="#000" stroke-width="2.15"/>
<circle cx="585.2" cy="718.5" r="4.7" fill="none" stroke="#000" stroke-width="2.15"/>
<circle cx="585.2" cy="723.5" r="4.7" fill="none" stroke="#000" stroke-width="2.15"/>
<circle cx="595" cy="722.9" r="4.7" fill="none" stroke="#000" stroke-width="2.15"/>
<circle cx="584.9" cy="730.6" r="4.7" fill="none" stroke="#000" stroke-width="2.15"/>
<circle cx="562.9" cy="732.3" r="4.7" fill="none" stroke="#000" stroke-width="2.15"/>
<circle cx="537.2" cy="739.5" r="4.7" fill="none" stroke="#000" stroke-width="2.15"/>
<circle cx="547" cy="753.5" r="4.7" fill="none" stroke="#000" stroke-width="2.15"/>
<circle cx="554.7" cy="744.5" r="4.7" fill="none" stroke="#000" stroke-width="2.15"/>
<circle cx="546.9" cy="764" r="4.7" fill="none" stroke="#000" stroke-width="2.15"/>
<circle cx="556.8" cy="769.4" r="4.7" fill="none" stroke="#000" stroke-width="2.15"/>
<circle cx="565.7" cy="736.2" r="4.7" fill="none" stroke="#000" stroke-width="2.15"/>
<circle cx="574.3" cy="740" r="4.7" fill="none" stroke="#000" stroke-width="2.15"/>
<circle cx="561.8" cy="747.6" r="4.7" fill="none" stroke="#000" stroke-width="2.15"/>
<circle cx="585.2" cy="746.5" r="4.7" fill="none" stroke="#000" stroke-width="2.15"/>
<circle cx="600.4" cy="752.3" r="4.7" fill="none" stroke="#000" stroke-width="2.15"/>
<circle cx="573.8" cy="760.1" r="4.7" fill="none" stroke="#000" stroke-width="2.15"/>
<circle cx="585.2" cy="772.6" r="4.7" fill="none" stroke="#000" stroke-width="2.15"/>
<circle cx="600.4" cy="769.9" r="4.7" fill="none" stroke="#000" stroke-width="2.15"/>
<circle cx="633.4" cy="696.8" r="4.7" fill="none" stroke="#000" stroke-width="2.15"/>
<circle cx="633.5" cy="772" r="4.7" fill="none" stroke="#000" stroke-width="2.15"/>
<circle cx="516.5" cy="538.3" r="4.65" fill="#000"/>
<circle cx="520.3" cy="538.3" r="4.65" fill="#000"/>
<circle cx="537.5" cy="568.5" r="4.65" fill="#000"/>
<circle cx="567.5" cy="538.3" r="4.65" fill="#000"/>
<circle cx="524.3" cy="593.5" r="4.65" fill="#000"/>
<circle cx="585.1" cy="561.6" r="4.65" fill="#000"/>
<circle cx="564.8" cy="608" r="4.65" fill="#000"/>
<circle cx="544.6" cy="628.2" r="4.65" fill="#000"/>
<circle cx="526.3" cy="644.5" r="4.65" fill="#000"/>
<circle cx="537.7" cy="642" r="4.65" fill="#000"/>
<circle cx="545.1" cy="650.7" r="4.65" fill="#000"/>
<circle cx="517.4" cy="656.4" r="4.65" fill="#000"/>
<circle cx="512.7" cy="672.7" r="4.65" fill="#000"/>
<circle cx="574.6" cy="649.6" r="4.65" fill="#000"/>
<circle cx="519.8" cy="685.1" r="4.65" fill="#000"/>
<circle cx="522" cy="700" r="4.65" fill="#000"/>
<circle cx="537.2" cy="715.2" r="4.65" fill="#000"/>
<circle cx="529.3" cy="724" r="4.65" fill="#000"/>
<circle cx="554.6" cy="722.1" r="4.65" fill="#000"/>
<circle cx="553.6" cy="724.2" r="4.65" fill="#000"/>
<circle cx="574.3" cy="684.9" r="4.65" fill="#000"/>
<circle cx="585.2" cy="699.6" r="4.65" fill="#000"/>
<circle cx="618.2" cy="711.1" r="4.65" fill="#000"/>
<circle cx="574.3" cy="731.1" r="4.65" fill="#000"/>
<circle cx="542.1" cy="737" r="4.65" fill="#000"/>
<circle cx="537.2" cy="739.1" r="4.65" fill="#000"/>
<circle cx="533.9" cy="744" r="4.65" fill="#000"/>
<circle cx="584.5" cy="758.5" r="4.65" fill="#000"/>
<circle cx="586" cy="758.5" r="4.65" fill="#000"/>
<circle cx="600.4" cy="757.9" r="4.65" fill="#000"/>
<circle cx="674.4" cy="757.8" r="4.65" fill="#000"/>
<circle cx="501.1" cy="538.3" r="4.7" fill="none" stroke="#cc2a26" stroke-width="2.3"/>
<circle cx="528.2" cy="538.3" r="4.7" fill="none" stroke="#cc2a26" stroke-width="2.3"/>
<circle cx="522.2" cy="549.8" r="4.7" fill="none" stroke="#cc2a26" stroke-width="2.3"/>
<circle cx="500.8" cy="581.5" r="4.7" fill="none" stroke="#cc2a26" stroke-width="2.3"/>
<circle cx="505.7" cy="584.8" r="4.7" fill="none" stroke="#cc2a26" stroke-width="2.3"/>
<circle cx="509.1" cy="584.2" r="4.7" fill="none" stroke="#cc2a26" stroke-width="2.3"/>
<circle cx="504.2" cy="587.8" r="4.7" fill="none" stroke="#cc2a26" stroke-width="2.3"/>
<circle cx="501.8" cy="591.8" r="4.7" fill="none" stroke="#cc2a26" stroke-width="2.3"/>
<circle cx="501.1" cy="600.4" r="4.7" fill="none" stroke="#cc2a26" stroke-width="2.3"/>
<circle cx="524.3" cy="598.2" r="4.7" fill="none" stroke="#cc2a26" stroke-width="2.3"/>
<circle cx="534" cy="604.2" r="4.7" fill="none" stroke="#cc2a26" stroke-width="2.3"/>
<circle cx="537.4" cy="675.5" r="4.7" fill="none" stroke="#cc2a26" stroke-width="2.3"/>
<circle cx="531.7" cy="691.6" r="4.7" fill="none" stroke="#cc2a26" stroke-width="2.3"/>
<circle cx="531.7" cy="700.9" r="4.7" fill="none" stroke="#cc2a26" stroke-width="2.3"/>
<circle cx="515.4" cy="730.2" r="4.7" fill="none" stroke="#cc2a26" stroke-width="2.3"/>
<circle cx="539.3" cy="750" r="4.7" fill="none" stroke="#cc2a26" stroke-width="2.3"/>
<circle cx="572.2" cy="695.1" r="4.7" fill="none" stroke="#cc2a26" stroke-width="2.3"/>
<circle cx="570.5" cy="771" r="4.7" fill="none" stroke="#cc2a26" stroke-width="2.3"/>
<line x1="500.2" y1="625.4" x2="632.9" y2="767" stroke="#000" stroke-width="1.3" stroke-linecap="butt"/>
</svg>
</body></html>
